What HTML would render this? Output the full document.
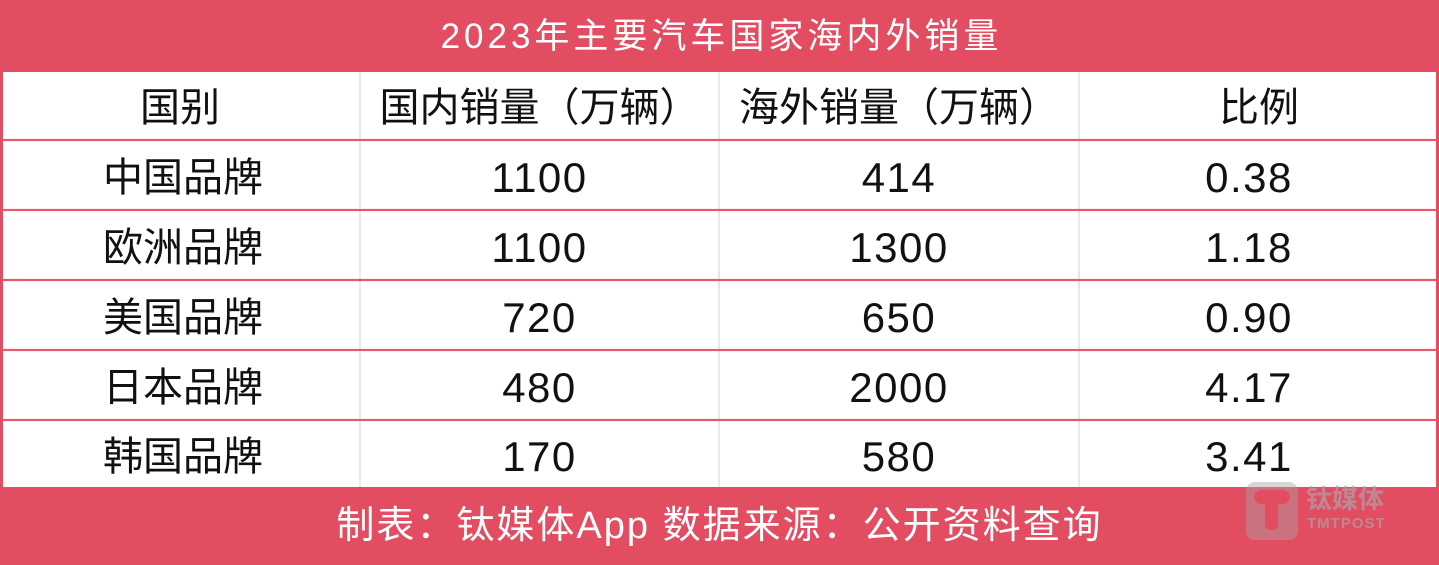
<!DOCTYPE html>
<html>
<head>
<meta charset="utf-8">
<style>
  html, body { margin:0; padding:0; }
  body { width:1439px; height:563px; position:relative; overflow:hidden; background:#e34d61;
         font-family:"Liberation Sans","Noto Sans CJK SC",sans-serif; }
  .abs { position:absolute; }
  .title { left:0; top:0; width:1439px; height:72px; line-height:74px; text-align:center; color:#fff;
           font-size:35px; letter-spacing:4px; text-indent:4px; }
  .white { left:3px; top:72px; width:1433px; height:415px; background:#fff; }
  .hline { left:3px; width:1433px; height:2px; background:#e6576a; box-shadow:0 0 1px #f2a0aa; }
  .vline { top:72px; width:2px; height:415px; background:#e8e8e8; }
  .cell { text-align:center; color:#111; white-space:nowrap; }
  .hdr { font-size:40px; letter-spacing:0px; }
  .num { font-size:42px; letter-spacing:1.5px; }
  .footer { left:0; top:487px; width:1439px; height:76px; line-height:78px; text-align:center; color:#fff;
            font-size:38px; letter-spacing:2px; }
</style>
</head>
<body>
  <div class="abs title">2023年主要汽车国家海内外销量</div>
  <div class="abs white"></div>

  <div class="abs vline" style="left:359px"></div>
  <div class="abs vline" style="left:718px"></div>
  <div class="abs vline" style="left:1078px"></div>

  <div class="abs hline" style="top:139px"></div>
  <div class="abs hline" style="top:209px"></div>
  <div class="abs hline" style="top:279px"></div>
  <div class="abs hline" style="top:349px"></div>
  <div class="abs hline" style="top:419px"></div>

  <!-- header row -->
  <div class="abs cell hdr" style="left:0;top:72px;width:360px;height:67px;line-height:72px;">国别</div>
  <div class="abs cell hdr" style="left:360px;top:72px;width:359px;height:67px;line-height:72px;">国内销量（万辆）</div>
  <div class="abs cell hdr" style="left:719px;top:72px;width:360px;height:67px;line-height:72px;">海外销量（万辆）</div>
  <div class="abs cell hdr" style="left:1079px;top:72px;width:360px;height:67px;line-height:72px;">比例</div>

  <!-- row 1 -->
  <div class="abs cell hdr" style="left:0;top:141px;width:366px;height:68px;line-height:74px;">中国品牌</div>
  <div class="abs cell num" style="left:360px;top:141px;width:359px;height:68px;line-height:74px;">1100</div>
  <div class="abs cell num" style="left:719px;top:141px;width:360px;height:68px;line-height:74px;">414</div>
  <div class="abs cell num" style="left:1069px;top:141px;width:360px;height:68px;line-height:74px;">0.38</div>

  <!-- row 2 -->
  <div class="abs cell hdr" style="left:0;top:211px;width:366px;height:68px;line-height:74px;">欧洲品牌</div>
  <div class="abs cell num" style="left:360px;top:211px;width:359px;height:68px;line-height:74px;">1100</div>
  <div class="abs cell num" style="left:719px;top:211px;width:360px;height:68px;line-height:74px;">1300</div>
  <div class="abs cell num" style="left:1069px;top:211px;width:360px;height:68px;line-height:74px;">1.18</div>

  <!-- row 3 -->
  <div class="abs cell hdr" style="left:0;top:281px;width:366px;height:68px;line-height:74px;">美国品牌</div>
  <div class="abs cell num" style="left:360px;top:281px;width:359px;height:68px;line-height:74px;">720</div>
  <div class="abs cell num" style="left:719px;top:281px;width:360px;height:68px;line-height:74px;">650</div>
  <div class="abs cell num" style="left:1069px;top:281px;width:360px;height:68px;line-height:74px;">0.90</div>

  <!-- row 4 -->
  <div class="abs cell hdr" style="left:0;top:351px;width:366px;height:68px;line-height:74px;">日本品牌</div>
  <div class="abs cell num" style="left:360px;top:351px;width:359px;height:68px;line-height:74px;">480</div>
  <div class="abs cell num" style="left:719px;top:351px;width:360px;height:68px;line-height:74px;">2000</div>
  <div class="abs cell num" style="left:1069px;top:351px;width:360px;height:68px;line-height:74px;">4.17</div>

  <!-- row 5 -->
  <div class="abs cell hdr" style="left:0;top:421px;width:366px;height:66px;line-height:72px;">韩国品牌</div>
  <div class="abs cell num" style="left:360px;top:421px;width:359px;height:66px;line-height:72px;">170</div>
  <div class="abs cell num" style="left:719px;top:421px;width:360px;height:66px;line-height:72px;">580</div>
  <div class="abs cell num" style="left:1069px;top:421px;width:360px;height:66px;line-height:72px;">3.41</div>

  <div class="abs footer">制表：钛媒体App 数据来源：公开资料查询</div>

  <!-- watermark -->
  <div class="abs" style="left:1246px;top:482px;width:52px;height:58px;border-radius:9px;background:rgba(170,160,165,0.45);"></div>
  <div class="abs" style="left:1254px;top:490px;width:36px;height:14px;border-radius:7px;background:#e34d61;"></div>
  <div class="abs" style="left:1265px;top:496px;width:13px;height:34px;border-radius:5px;background:#e34d61;"></div>
  <div class="abs" style="left:1306px;top:484px;font-size:26px;line-height:30px;color:rgba(175,160,165,0.7);font-weight:bold;">钛媒体</div>
  <div class="abs" style="left:1307px;top:515px;font-size:15px;line-height:18px;color:rgba(175,160,165,0.7);letter-spacing:1px;font-weight:bold;">TMTPOST</div>
</body>
</html>
